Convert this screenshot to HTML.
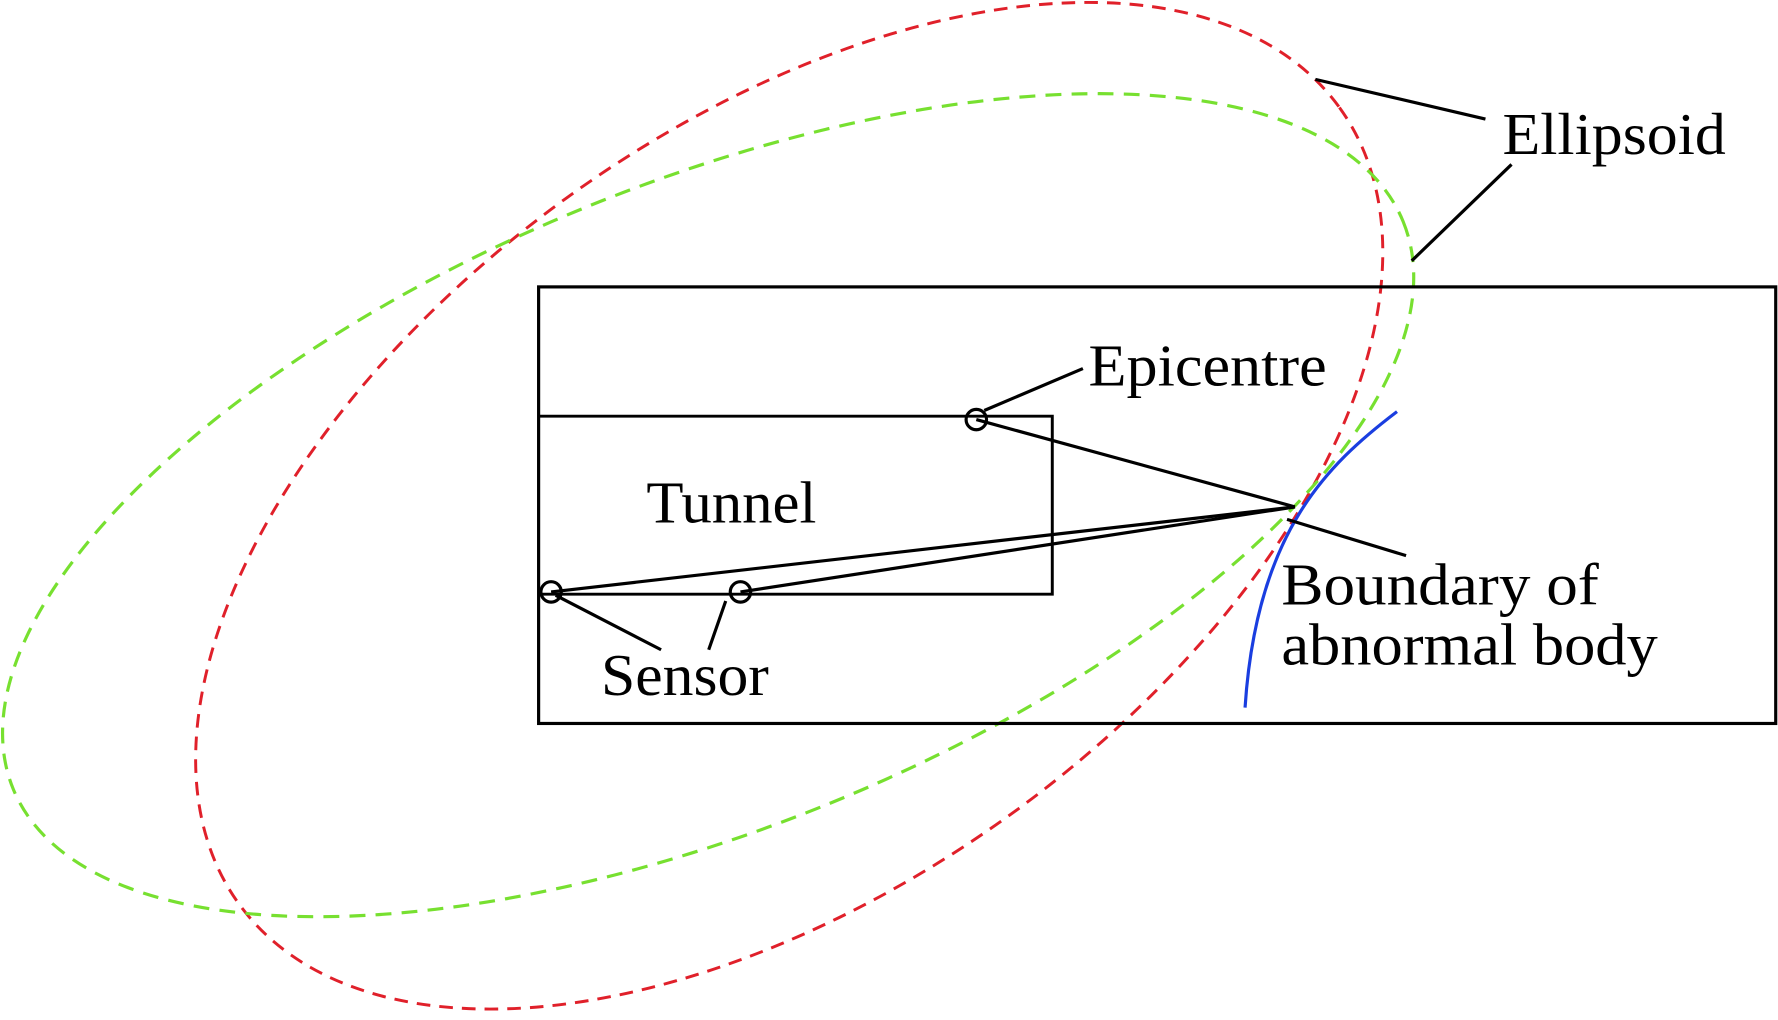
<!DOCTYPE html>
<html><head><meta charset="utf-8"><style>
html,body{margin:0;padding:0;background:#fff;overflow:hidden;}
svg{display:block;}
text{font-family:"Liberation Serif",serif;fill:#000;}
</style></head><body>
<svg width="1778" height="1020" viewBox="0 0 1568 899.5" preserveAspectRatio="none" xmlns="http://www.w3.org/2000/svg">
<g fill="none">
<ellipse cx="696" cy="446" rx="599" ry="335" transform="rotate(-35.9 696 446)" stroke="#e0202a" stroke-width="2.6" stroke-dasharray="12 8"/>
<ellipse cx="624.5" cy="445.5" rx="662" ry="284" transform="rotate(-22.2 624.5 445.5)" stroke="#77e030" stroke-width="2.8" stroke-dasharray="14 9"/>
<rect x="475" y="253" width="1091" height="385" stroke="#000" stroke-width="2.8"/>
<polyline points="475,367 928,367 928,524 475,524" stroke="#000" stroke-width="2.6"/>
<path d="M1232,363 C1170,410 1108,470 1098,624" stroke="#1a3ee0" stroke-width="2.8"/>
<g stroke="#000" stroke-width="2.8">
<line x1="861" y1="370" x2="1142" y2="447"/>
<line x1="1135" y1="458" x2="1240" y2="490"/>
<line x1="486" y1="522" x2="1142" y2="447"/>
<line x1="653" y1="522" x2="1142" y2="447"/>
<line x1="868" y1="362" x2="955" y2="325"/>
<line x1="490" y1="525" x2="583" y2="573"/>
<line x1="640" y1="530" x2="625" y2="573"/>
<line x1="1160" y1="70" x2="1310" y2="105"/>
<line x1="1245" y1="230" x2="1333" y2="145"/>
<circle cx="861" cy="370" r="9"/>
<circle cx="486" cy="522" r="9"/>
<circle cx="653" cy="522" r="9"/>
</g>
</g>
<text x="1325" y="136" font-size="52" textLength="197" lengthAdjust="spacingAndGlyphs">Ellipsoid</text>
<text x="960" y="340" font-size="52" textLength="210" lengthAdjust="spacingAndGlyphs">Epicentre</text>
<text x="570" y="461" font-size="52" textLength="150" lengthAdjust="spacingAndGlyphs">Tunnel</text>
<text x="530" y="613" font-size="52" textLength="148" lengthAdjust="spacingAndGlyphs">Sensor</text>
<text x="1130" y="533" font-size="52" textLength="280" lengthAdjust="spacingAndGlyphs">Boundary of</text>
<text x="1130" y="586" font-size="52" textLength="332" lengthAdjust="spacingAndGlyphs">abnormal body</text>
</svg>
</body></html>
